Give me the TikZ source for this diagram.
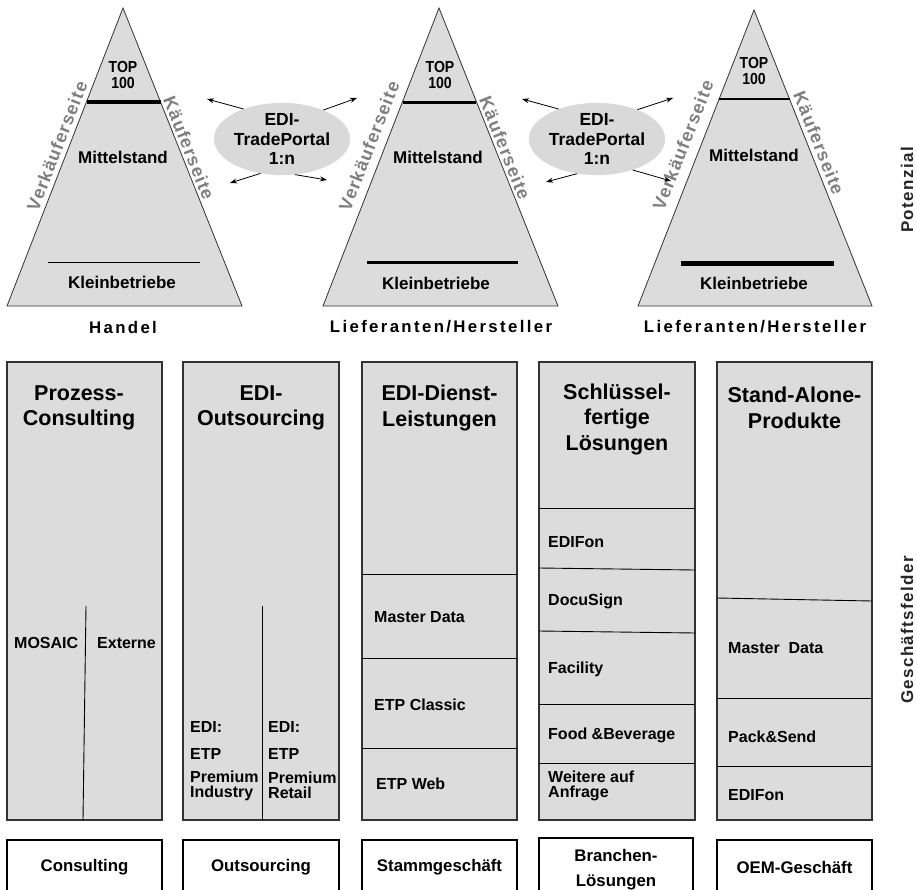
\documentclass[tikz,border=0pt]{standalone}
\usepackage{fontspec}
\setmainfont{Liberation Sans}
\newfontfamily\spacedfont{Liberation Sans}[LetterSpace=6]
\newfontfamily\capfont{Liberation Sans}[LetterSpace=14]
\newfontfamily\rightfont{Liberation Sans}[LetterSpace=8]
\newfontfamily\condfont{Liberation Sans}[FakeStretch=0.88]
\usetikzlibrary{shapes.geometric,arrows.meta}
\definecolor{boxgray}{HTML}{DCDCDC}
\definecolor{ellgray}{HTML}{D9D9D9}
\definecolor{sidegray}{HTML}{7F7F7F}
\definecolor{edgegray}{HTML}{333333}
\begin{document}
\begin{tikzpicture}[x=1pt,y=-1pt,
  tri/.style={fill=boxgray,draw=edgegray,line width=0.8pt},
  colbox/.style={fill=boxgray,draw=edgegray,line width=1.1pt},
  botbox/.style={fill=white,draw=black,line width=1.1pt},
  divline/.style={draw=black,line width=0.9pt},
  hdr/.style={font=\fontsize{21.5}{25.5}\selectfont\bfseries,align=center,inner sep=0pt},
  lab/.style={font=\fontsize{16}{15}\selectfont\bfseries,anchor=west,align=left,inner sep=0pt},
  tlab/.style={font=\fontsize{17}{18}\selectfont\bfseries,align=center,inner sep=0pt},
  toplab/.style={font=\condfont\fontsize{16}{16}\selectfont\bfseries,align=center,inner sep=0pt},
  sidelab/.style={font=\spacedfont\fontsize{18}{18}\selectfont\bfseries,text=sidegray,inner sep=0pt},
  basecap/.style={font=\capfont\fontsize{16.8}{17}\selectfont\bfseries,inner sep=0pt},
  rightlab/.style={font=\rightfont\fontsize{17}{17}\selectfont\bfseries,text=black!85,inner sep=0pt,rotate=90},
  ell/.style={ellipse,fill=ellgray,draw=none,minimum width=112pt,minimum height=68pt,inner sep=0pt,
    align=center,font=\fontsize{17.5}{19.5}\selectfont\bfseries},
  arr/.style={-{Stealth[length=7pt,width=5pt]},line width=0.8pt,draw=black},
  botlab/.style={font=\fontsize{16.8}{25}\selectfont\bfseries,align=center,inner sep=0pt}
]
\clip (0,0) rectangle (917,890);
\fill[white] (0,0) rectangle (917,890);

% ---------- triangles ----------
\draw[tri] (123,8) -- (242,306) -- (7,306) -- cycle;
\draw[tri] (439,8) -- (558,306) -- (323,306) -- cycle;
\draw[tri] (754,10) -- (872,306) -- (638,306) -- cycle;

% level lines
\draw[line width=4pt] (87,102) -- (161,102);
\draw[line width=0.9pt] (48,262) -- (200,262);
\draw[line width=3pt] (403,103) -- (476,103);
\draw[line width=3pt] (367,263) -- (518,263);
\draw[line width=2pt] (719,99) -- (790,99);
\draw[line width=5pt] (681,264) -- (834,264);

% triangle texts
\node[toplab] (t1top) at (123,75) {TOP\\100};
\node[tlab] (t1mid) at (123,157) {Mittelstand};
\node[tlab] (t1kl) at (122,282) {Kleinbetriebe};
\node[toplab] (t2top) at (440,75) {TOP\\100};
\node[tlab] (t2mid) at (438,157) {Mittelstand};
\node[tlab] (t2kl) at (436,283) {Kleinbetriebe};
\node[toplab] (t3top) at (754,71) {TOP\\100};
\node[tlab] (t3mid) at (754,155) {Mittelstand};
\node[tlab] (t3kl) at (754,283) {Kleinbetriebe};

% side labels
\node[sidelab,rotate=68.7] (t1v) at (57,146) {Verkäuferseite};
\node[sidelab,rotate=-68.2] (t1k) at (189,148) {Käuferseite};
\node[sidelab,rotate=68.7] (t2v) at (369,146) {Verkäuferseite};
\node[sidelab,rotate=-68.2] (t2k) at (505,148) {Käuferseite};
\node[sidelab,rotate=68.6] (t3v) at (683,145) {Verkäuferseite};
\node[sidelab,rotate=-68.3] (t3k) at (819,143) {Käuferseite};

% captions
\node[basecap] (c1) at (123,327) {Handel};
\node[basecap] (c2) at (441,327) {Lieferanten/Hersteller};
\node[basecap] (c3) at (755,327) {Lieferanten/Hersteller};

% ellipses and arrows
\node[ell] (e1) at (282,139) {EDI-\\TradePortal\\1:n};
\node[ell] (e2) at (597,139) {EDI-\\TradePortal\\1:n};
\coordinate (e1ul) at (207,99);
\coordinate (e1ll) at (230,183);
\coordinate (e1ur) at (357,98);
\coordinate (e1lr) at (327,180);
\coordinate (e2ul) at (522,99);
\coordinate (e2ll) at (546,182);
\coordinate (e2ur) at (673,98);
\coordinate (e2lr) at (671,181);
\draw[arr] (e1.142) -- (e1ul);
\draw[arr] (e1.238) -- (e1ll);
\draw[arr] (e1.35) -- (e1ur);
\draw[arr] (e1.290) -- (e1lr);
\draw[arr] (e2.142) -- (e2ul);
\draw[arr] (e2.240) -- (e2ll);
\draw[arr] (e2.36) -- (e2ur);
\draw[arr] (e2.319) -- (e2lr);

% right labels
\node[rightlab] (pot) at (907,190) {Potenzial};
\node[rightlab] (gf) at (907,630) {Geschäftsfelder};

% ---------- columns ----------
\draw[colbox] (7,362) rectangle (162,820);
\draw[colbox] (183,362) rectangle (339,820);
\draw[colbox] (362,362) rectangle (517,820);
\draw[colbox] (539,362) rectangle (695,820);
\draw[colbox] (717,362) rectangle (872,820);

\node[hdr] (h1) at (79,408) {Prozess-\\Consulting};
\node[hdr] (h2) at (261,408) {EDI-\\Outsourcing};
\node[hdr] (h3) at (439.5,408) {EDI-Dienst-\\Leistungen};
\node[hdr] (h4) at (617,419) {Schlüssel-\\fertige\\Lösungen};
\node[hdr] (h5) at (794.5,408) {Stand-Alone-\\Produkte};

% column 1
\draw[divline] (86,606) -- (83,820);
\node[lab] (mosaic) at (14,643) {MOSAIC};
\node[lab] (ext) at (97,643) {Externe};

% column 2
\draw[divline] (262,606) -- (262,820);
\node[lab] (ediL) at (190,727) {EDI:};
\node[lab] (etpL) at (190,754) {ETP};
\node[lab] (premL) at (190,785.5) {Premium\\Industry};
\node[lab] (ediR) at (268,727) {EDI:};
\node[lab] (etpR) at (268,754) {ETP};
\node[lab] (premR) at (268,785.5) {Premium\\Retail};

% column 3
\draw[divline] (362,574) -- (517,574);
\draw[divline] (362,658) -- (517,658);
\draw[divline] (362,748) -- (517,748);
\node[lab] (md3) at (374,617) {Master Data};
\node[lab] (etpc) at (374,705) {ETP Classic};
\node[lab] (etpw) at (376,784) {ETP Web};

% column 4
\draw[divline] (539,508) -- (695,508);
\draw[divline] (539,568) -- (695,570);
\draw[divline] (539,631) -- (695,633);
\draw[divline] (539,704) -- (695,704);
\draw[divline] (539,763) -- (695,763);
\node[lab] (edifon4) at (548,542) {EDIFon};
\node[lab] (docu) at (548,601) {DocuSign};
\node[lab] (fac) at (548,669) {Facility};
\node[lab] (food) at (548,735) {Food \&Beverage};
\node[lab] (weit) at (548,785.5) {Weitere auf\\Anfrage};

% column 5
\draw[divline] (717,598) -- (872,601);
\draw[divline] (717,698) -- (872,698);
\draw[divline] (717,766) -- (872,766);
\node[lab] (md5) at (728,648) {Master\ \ Data};
\node[lab] (pack) at (728,737) {Pack\&Send};
\node[lab] (edifon5) at (728,795) {EDIFon};

% ---------- bottom boxes ----------
\draw[botbox] (7,840) rectangle (162,900);
\draw[botbox] (183,840) rectangle (339,900);
\draw[botbox] (362,840) rectangle (517,900);
\draw[botbox] (539,838) rectangle (693,900);
\draw[botbox] (717,840) rectangle (872,900);
\node[botlab] (b1) at (84.5,867) {Consulting};
\node[botlab] (b2) at (261,867) {Outsourcing};
\node[botlab] (b3) at (439.5,867) {Stammgeschäft};
\node[botlab] (b4) at (616,869.5) {Branchen-\\Lösungen};
\node[botlab] (b5) at (794.5,867) {OEM-Geschäft};
\end{tikzpicture}
\end{document}
